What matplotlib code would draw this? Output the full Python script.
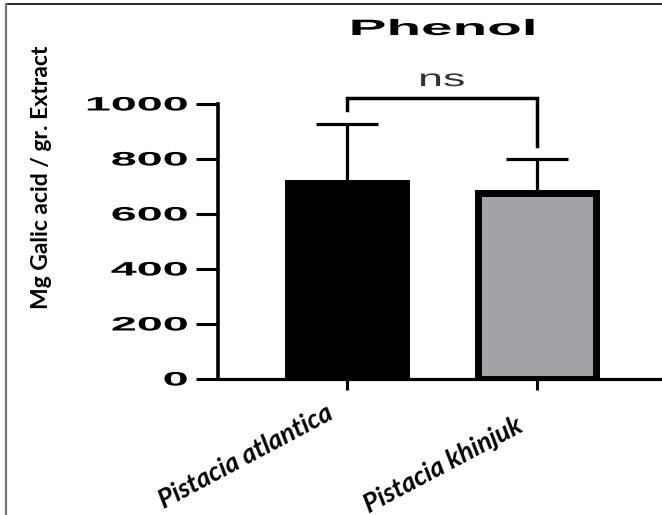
import matplotlib
matplotlib.use("Agg")
import matplotlib.pyplot as plt
from matplotlib.patheffects import AbstractPathEffect
from matplotlib.transforms import Affine2D, ScaledTranslation
from matplotlib.lines import Line2D

# ---- data ----
categories = ["Pistacia atlantica", "Pistacia khinjuk"]
means = [711, 675]
errors = [216, 125]
yticks = [0, 200, 400, 600, 800, 1000]
title = "Phenol"
ylabel = "Mg Galic acid / gr. Extract"
sig_label = "ns"
bracket_left, bracket_top, bracket_right = 978, 1023, 847


class HStretch(AbstractPathEffect):
    """Stretch text glyphs horizontally around an anchor fraction."""
    def __init__(self, sx, anchor=0.5):
        super().__init__()
        self.sx = sx
        self.anchor = anchor

    def draw_path(self, renderer, gc, tpath, affine, rgbFace=None):
        ext = tpath.get_extents()
        cx = ext.x0 + self.anchor * (ext.x1 - ext.x0)
        pre = Affine2D().translate(-cx, 0).scale(self.sx, 1).translate(cx, 0)
        renderer.draw_path(gc, tpath, pre + affine, rgbFace)


W, H = 662, 515
fig = plt.figure(figsize=(W / 100, H / 100), dpi=100)
fig.patch.set_facecolor("white")

ax = fig.add_axes([218 / W, 1 - 379 / H, 1 - 218 / W, (379 - 104) / H])
x = list(range(len(categories)))
colors = ["black", "#a3a2a7"]
bar_w = 0.626
ax.bar(x, means, width=bar_w, color=colors, edgecolor="black", linewidth=5, zorder=3)

# upper-only error bars
cap = 0.165
for xi, m, e in zip(x, means, errors):
    ax.plot([xi, xi], [m, m + e], color="black", lw=2.3, zorder=2, solid_capstyle="butt")
    ax.plot([xi - cap, xi + cap], [m + e, m + e], color="black", lw=2.3, zorder=2,
            solid_capstyle="butt")

ax.set_xlim(-0.679, 1.658)
ax.set_ylim(0, 1000)
ax.spines["top"].set_visible(False)
ax.spines["right"].set_visible(False)
ax.spines["left"].set_linewidth(2.6)
ax.spines["bottom"].set_linewidth(2.3)

ax.set_yticks(yticks)
ax.set_yticklabels([str(v) for v in yticks], fontfamily="Liberation Sans",
                   fontweight="bold", fontsize=14)
ax.tick_params(axis="y", length=16, width=2.2, pad=6)
for lab in ax.get_yticklabels():
    lab.set_path_effects([HStretch(2.4, anchor=1.0)])

ax.set_xticks(x)
ax.set_xticklabels(categories, rotation=28, ha="right", va="top",
                   rotation_mode="anchor", fontfamily="Lato", fontweight="bold",
                   fontstyle="italic", fontsize=19)
ax.tick_params(axis="x", length=8, width=2.2, pad=4)
offsets = [(-22, -5), (-22, -17)]
for lab, (dx, dy) in zip(ax.get_xticklabels(), offsets):
    lab.set_transform(lab.get_transform() + ScaledTranslation(dx / 100, dy / 100, fig.dpi_scale_trans))

# significance bracket
ax.plot([0, 0, 1, 1], [bracket_left, bracket_top, bracket_top, bracket_right],
        color="black", lw=2.5, clip_on=False, solid_joinstyle="miter", zorder=4)
t = ax.text(0.5, 1087, sig_label, ha="center", va="center", fontsize=17,
            fontfamily="Liberation Sans", color="#333333", clip_on=False)
t.set_path_effects([HStretch(1.9, anchor=0.5)])

# title
tt = fig.text(443 / W, 1 - 29.5 / H, title, ha="center", va="center", fontsize=16,
              fontfamily="Liberation Sans", fontweight="bold")
tt.set_path_effects([HStretch(2.55, anchor=0.5)])

# y label
fig.text(42 / W, 1 - 177 / H, ylabel, rotation=90, ha="center", va="center",
         fontsize=16.5, fontfamily="Lato", fontweight="bold")

# image frame lines
fig.add_artist(Line2D([6 / W, 1], [1 - 4 / H, 1 - 4 / H], color="black", lw=1.2,
                      transform=fig.transFigure))
fig.add_artist(Line2D([6 / W, 6 / W], [0, 1 - 4 / H], color="#777777", lw=1.6,
                      transform=fig.transFigure))

fig.savefig("out.png", dpi=100)
